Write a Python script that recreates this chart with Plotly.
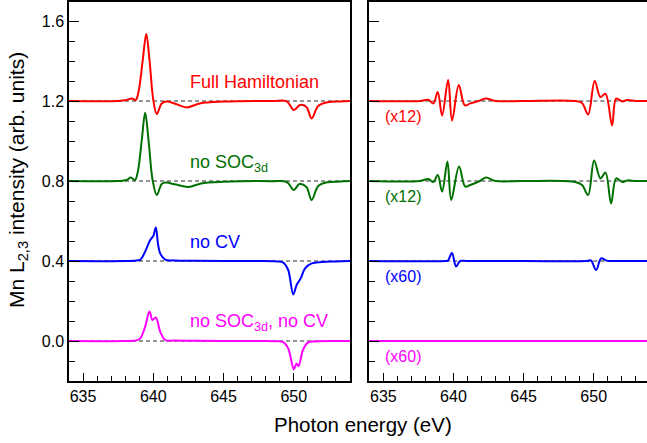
import plotly.graph_objects as go

# ---------------- data ----------------
offsets = [1.2, 0.8, 0.4, 0.0]
colors = ["#ff0000", "#007000", "#0000ff", "#ff00ff"]
labels = ["Full Hamiltonian", "no SOC<sub>3d</sub>", "no CV", "no SOC<sub>3d</sub>, no CV"]
scale_labels = ["(x12)", "(x12)", "(x60)", "(x60)"]

# left panel (raw spectra, relative to their offset)
full_x = [634, 637.5, 638.1, 638.47, 638.75, 638.95, 639.25, 639.5, 639.73, 640.0, 640.25, 640.6,
          640.96, 641.6, 642.4, 643.3, 645.0, 648.5, 649.5, 650.0, 650.44, 650.9, 651.27, 651.74,
          652.4, 653.3, 654]
full_y = [0, 0, 0.005, 0.013, 0.005, 0.047, 0.205, 0.335, 0.205, 0.005, -0.065, -0.012,
          -0.003, -0.015, -0.032, -0.012, -0.003, 0, -0.002, -0.045, -0.02, -0.03, -0.087, -0.025,
          -0.006, -0.002, 0]

nosoc_x = [634, 637.5, 638.1, 638.4, 638.7, 638.9, 639.18, 639.42, 639.66, 639.95, 640.25, 640.6,
           640.9, 641.6, 642.5, 643.4, 645.0, 648.5, 649.5, 650.0, 650.4, 650.9, 651.27, 651.74,
           652.4, 653.3, 654]
nosoc_y = [0, 0, 0.005, 0.017, 0.005, 0.047, 0.205, 0.341, 0.205, 0.005, -0.07, -0.015,
           -0.008, -0.018, -0.03, -0.012, -0.004, -0.001, -0.005, -0.045, -0.015, -0.03, -0.095, -0.025,
           -0.006, -0.003, 0]

nocv_x = [634, 638.0, 638.8, 639.07, 639.42, 639.78, 640.0, 640.18, 640.33, 640.49, 640.85, 641.5,
          643, 647, 648.8, 649.25, 649.6, 649.96, 650.2, 650.49, 650.8, 651.27, 652.0, 653, 654]
nocv_y = [0, 0, 0.003, 0.006, 0.047, 0.105, 0.125, 0.168, 0.088, 0.038, 0.007, 0.003,
          0.001, 0, -0.002, -0.008, -0.045, -0.167, -0.12, -0.087, -0.037, -0.012, -0.005, -0.002, 0]

nosoc_nocv_x = [634, 638.0, 638.8, 639.07, 639.42, 639.73, 639.94, 640.18, 640.49, 640.85, 641.5,
                643, 647, 648.8, 649.25, 649.6, 649.8, 650.0, 650.2, 650.34, 650.65, 651.0, 651.5,
                653, 654]
nosoc_nocv_y = [0, 0, 0.003, 0.013, 0.072, 0.147, 0.105, 0.118, 0.047, 0.005, 0.002,
                0.001, 0, -0.001, -0.006, -0.037, -0.09, -0.142, -0.112, -0.125, -0.045, -0.008, -0.002,
                0, 0]

# right panel (magnified differences, relative to their offset)
full_d_x = [634, 637.6, 638.21, 638.57, 638.88, 639.19, 639.62, 639.9, 640.38, 640.81, 641.2, 641.8,
            642.29, 643.0, 645, 648.69, 649.17, 649.6, 650.07, 650.48, 650.84, 651.31, 651.6, 652.03,
            652.4, 653.0, 653.8]
full_d_y = [0, 0, 0.006, -0.012, 0.045, -0.072, 0.105, -0.098, 0.08, -0.022, -0.012, 0.0,
            0.013, 0.0, 0, 0, -0.01, -0.068, 0.10, 0.02, 0.036, -0.122, 0.012, -0.002,
            0.005, 0, 0]

nosoc_d_x = [634, 637.6, 638.21, 638.57, 638.88, 639.19, 639.57, 639.84, 640.4, 640.84, 641.2, 641.8,
             642.33, 643.0, 645, 648.69, 649.17, 649.6, 650.03, 650.48, 650.84, 651.24, 651.6, 652.03,
             652.4, 653.0, 653.8]
nosoc_d_y = [0, 0, 0.01, -0.005, 0.03, -0.053, 0.097, -0.095, 0.072, -0.028, -0.02, -0.003,
             0.017, 0.0, 0, -0.005, -0.02, -0.07, 0.102, 0.013, 0.042, -0.112, 0.013, -0.005,
             0.003, 0, 0]

nocv_d_x = [634, 639.4, 639.6, 639.89, 640.19, 640.48, 641, 645, 649.5, 649.8, 650.17, 650.53,
            650.9, 651.3, 653.8]
nocv_d_y = [0, 0, 0.002, 0.04, -0.027, 0.0, 0, 0, 0, 0.003, -0.045, 0.013,
            0.002, 0, 0]

nosoc_nocv_d_x = [634, 653.8]
nosoc_nocv_d_y = [0, 0]

x_ticks = [635, 640, 645, 650]
y_ticks = [0.0, 0.4, 0.8, 1.2, 1.6]

left_series = [(full_x, full_y), (nosoc_x, nosoc_y), (nocv_x, nocv_y), (nosoc_nocv_x, nosoc_nocv_y)]
right_series = [(full_d_x, full_d_y), (nosoc_d_x, nosoc_d_y), (nocv_d_x, nocv_d_y),
                (nosoc_nocv_d_x, nosoc_nocv_d_y)]

# ---------------- figure ----------------
FONT = "Liberation Sans, Arial, sans-serif"
fig = go.Figure()

for (xs, ys), off, col in zip(left_series, offsets, colors):
    fig.add_trace(go.Scatter(x=xs, y=[v + off for v in ys], mode="lines",
                             line=dict(color=col, width=2, shape="spline", smoothing=1.0),
                             xaxis="x", yaxis="y", showlegend=False, hoverinfo="skip"))
for (xs, ys), off, col in zip(right_series, offsets, colors):
    fig.add_trace(go.Scatter(x=xs, y=[v + off for v in ys], mode="lines",
                             line=dict(color=col, width=2, shape="spline", smoothing=1.0),
                             xaxis="x2", yaxis="y2", showlegend=False, hoverinfo="skip"))

shapes = []
for off in offsets:
    for xr, yr in (("x domain", "y"), ("x2 domain", "y2")):
        shapes.append(dict(type="line", xref=xr, yref=yr, x0=0, x1=1, y0=off, y1=off,
                           line=dict(color="#111111", width=0.9, dash="4px,3px"), layer="below"))

W, H = 647, 443
ml, mr, mt, mb = 69, 0, 2, 62
pw = W - ml - mr
ph = H - mt - mb


def px_to_paper_x(px):
    return (px - ml) / pw


def px_to_paper_y(py):
    return (H - mb - py) / ph


annotations = []
label_y = [1.297, 0.889, 0.494, 0.092]
for lab, ly, col in zip(labels, label_y, colors):
    annotations.append(dict(x=642.45, y=ly, xref="x", yref="y", text=lab, showarrow=False,
                            xanchor="left", yanchor="middle", font=dict(size=18, color=col, family=FONT)))
scale_y = [1.122, 0.722, 0.322, -0.078]
for lab, ly, col in zip(scale_labels, scale_y, colors):
    annotations.append(dict(x=634.95, y=ly, xref="x2", yref="y2", text=lab, showarrow=False,
                            xanchor="left", yanchor="middle", font=dict(size=16, color=col, family=FONT)))
annotations.append(dict(x=px_to_paper_x(363), y=px_to_paper_y(424), xref="paper", yref="paper",
                        text="Photon energy (eV)", showarrow=False, xanchor="center", yanchor="middle",
                        font=dict(size=20.5, color="black", family=FONT)))
annotations.append(dict(x=px_to_paper_x(18), y=px_to_paper_y(180), xref="paper", yref="paper",
                        text="Mn L<sub>2,3</sub> intensity (arb. units)", showarrow=False, textangle=-90,
                        xanchor="center", yanchor="middle",
                        font=dict(size=21, color="black", family=FONT)))

common_x = dict(range=[634, 654], tickvals=x_ticks, ticks="inside", ticklen=8, tickwidth=1.3,
                tickcolor="black", showline=True, linecolor="black", linewidth=1.5, mirror=True,
                showgrid=False, zeroline=False, automargin=False,
                tickfont=dict(size=16, family=FONT, color="black"),
                minor=dict(dtick=1, tick0=634, ticks="inside", ticklen=5, tickwidth=1.2, tickcolor="black"))
common_y = dict(range=[-0.2, 1.695], tickvals=y_ticks, ticks="inside", ticklen=10, tickwidth=1.3,
                tickcolor="black", showline=True, linecolor="black", linewidth=1.5,
                showgrid=False, zeroline=False, automargin=False,
                tickfont=dict(size=16, family=FONT, color="black"),
                minor=dict(dtick=0.1, tick0=0, ticks="inside", ticklen=6, tickwidth=1.2, tickcolor="black"))

fig.update_layout(
    width=W, height=H,
    margin=dict(l=ml, r=mr, t=mt, b=mb, autoexpand=False),
    paper_bgcolor="white", plot_bgcolor="white",
    xaxis=dict(common_x, domain=[0, (350 - ml) / pw]),
    xaxis2=dict(common_x, domain=[(369.3 - ml) / pw, 1], anchor="y2", range=[634, 653.8]),
    yaxis=dict(common_y, mirror=True, tickformat=".1f"),
    yaxis2=dict(common_y, anchor="x2", showticklabels=False, mirror=False),
    shapes=shapes, annotations=annotations,
    font=dict(family=FONT, color="black"),
)

fig.write_html("out.html", config={"displayModeBar": False},
               post_script="document.body.style.margin='0';document.body.style.overflow='hidden';")
